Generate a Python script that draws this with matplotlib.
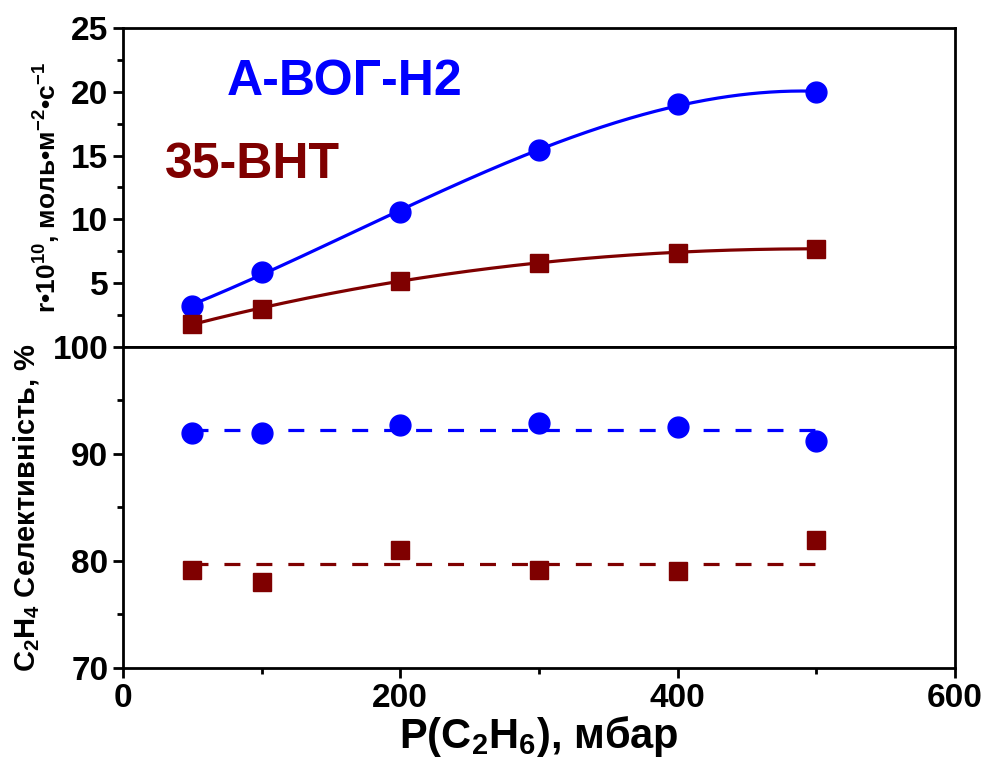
import numpy as np
import matplotlib.pyplot as plt

plt.rcParams.update({'font.family': ['Liberation Sans', 'DejaVu Sans'],
                     'font.weight': 'bold',
                     'axes.labelweight': 'bold',
                     'mathtext.fontset': 'custom',
                     'mathtext.rm': 'Liberation Sans:bold',
                     'mathtext.bf': 'Liberation Sans:bold',
                     'mathtext.it': 'Liberation Sans:bold'})

# data
pressure = [50, 100, 200, 300, 400, 500]
rate_avog = [3.2, 5.9, 10.6, 15.4, 19.0, 20.0]
rate_bnt = [1.8, 3.0, 5.2, 6.6, 7.4, 7.7]
sel_avog = [92.0, 92.0, 92.7, 92.9, 92.5, 91.2]
sel_bnt = [79.2, 78.0, 81.0, 79.2, 79.1, 82.0]

blue = '#0000ff'
red = '#7f0000'

fig = plt.figure(figsize=(9.88, 7.66), dpi=100)
ax1 = fig.add_axes([0.1245, 0.547, 0.842, 0.4166])
ax2 = fig.add_axes([0.1245, 0.128, 0.842, 0.419])

# smooth fitted curves in the top panel
xs = np.linspace(pressure[0], pressure[-1], 300)
for y, c, m, ms in [(rate_avog, blue, 'o', 15), (rate_bnt, red, 's', 13)]:
    fit = np.polyfit(pressure, y, 3)
    ax1.plot(xs, np.polyval(fit, xs), color=c, lw=2.3)
    ax1.plot(pressure, y, m, color=c, ms=ms, ls='none')

# average level as dashed line in the bottom panel
for y, c, m, ms in [(sel_avog, blue, 'o', 15), (sel_bnt, red, 's', 13)]:
    lvl = np.mean(y)
    ax2.plot([pressure[0], pressure[-1]], [lvl, lvl], color=c, lw=2.3, dashes=(5, 5))
    ax2.plot(pressure, y, m, color=c, ms=ms, ls='none')

ax1.set_xlim(0, 600)
ax1.set_ylim(0, 25)
ax2.set_xlim(0, 600)
ax2.set_ylim(70, 100)

ax1.set_yticks([5, 10, 15, 20, 25])
ax1.set_yticks(np.arange(2.5, 25, 5), minor=True)
ax1.set_xticks([])
ax2.set_yticks([70, 80, 90, 100])
ax2.set_yticks([75, 85, 95], minor=True)
ax2.set_xticks([0, 200, 400, 600])
ax2.set_xticks([100, 300, 500], minor=True)

for ax in (ax1, ax2):
    for s in ax.spines.values():
        s.set_linewidth(2)
    ax.tick_params(which='major', direction='out', length=7, width=2, labelsize=24)
    ax.tick_params(which='minor', direction='out', length=4, width=2)

ax1.set_ylabel(r'r•10$^{10}$, моль•м$^{-2}$•с$^{-1}$', fontsize=19, labelpad=6)
ax2.set_ylabel(r'C$_2$H$_4$ Селективність, %', fontsize=21, labelpad=8)
ax2.set_xlabel(r'P(C$_2$H$_6$), мбар', fontsize=30, labelpad=0)

ax1.text(0.125, 0.83, 'А-ВОГ-Н2', color=blue, fontsize=36, transform=ax1.transAxes,
         va='center', ha='left')
ax1.text(0.05, 0.57, '35-ВНТ', color=red, fontsize=36, transform=ax1.transAxes,
         va='center', ha='left')

fig.savefig('out.png', dpi=100)
